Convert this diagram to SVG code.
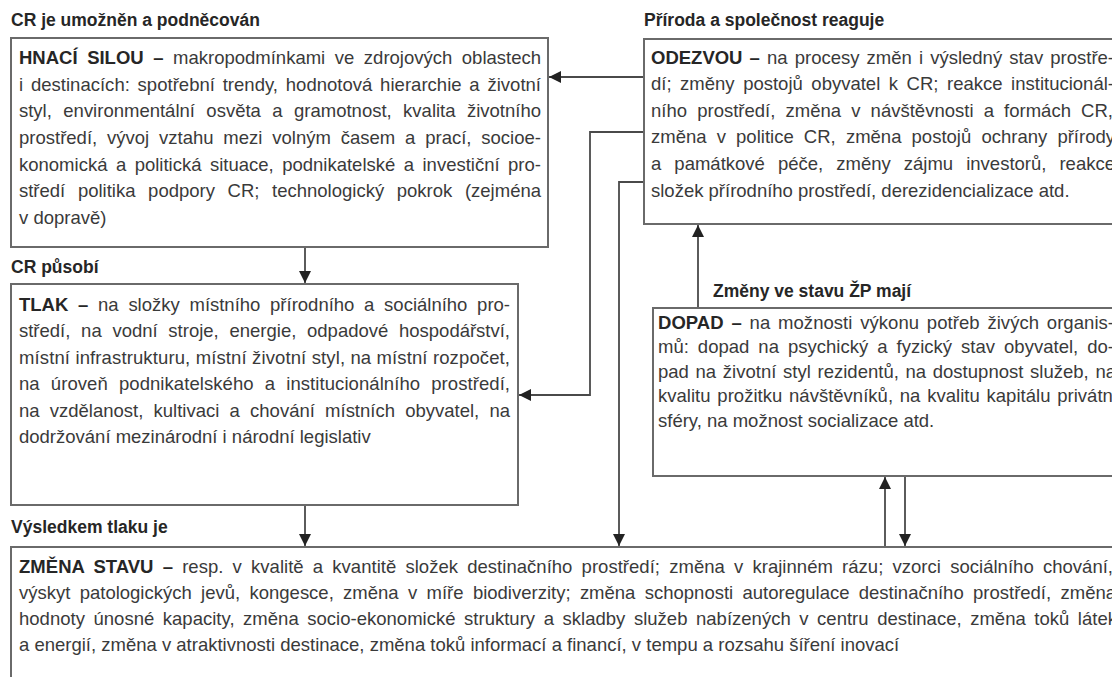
<svg xmlns="http://www.w3.org/2000/svg" width="1112" height="677" viewBox="0 0 1112 677">
<style>
  .bg { fill: #ffffff; }
  .box { fill: #ffffff; stroke: #6a6a6a; stroke-width: 2; }
  .title { font-family: "Liberation Sans", Arial, sans-serif; font-size: 17.5px; font-weight: bold; fill: #262626; }
  .t { font-family: "Liberation Sans", Arial, sans-serif; font-size: 18.5px; fill: #3a3a3a; }
  .b { font-weight: bold; fill: #262626; }
  .conn { fill: none; stroke: #4a4a4a; stroke-width: 1.8; }
</style>
<defs>
  <marker id="ah" markerUnits="userSpaceOnUse" markerWidth="12" markerHeight="12" refX="12" refY="6" orient="auto">
    <path d="M0,0 L12,6 L0,12 z" fill="#222"/>
  </marker>
</defs>
<rect class="bg" x="0" y="0" width="1112" height="677"/>

<g id="connectors">
  <line class="conn" x1="644" y1="77" x2="549" y2="77" marker-end="url(#ah)"/>
  <polyline class="conn" points="644,132 590,132 590,395 519,395" marker-end="url(#ah)"/>
  <polyline class="conn" points="644,182 619,182 619,546" marker-end="url(#ah)"/>
  <line class="conn" x1="305" y1="247" x2="305" y2="283" marker-end="url(#ah)"/>
  <line class="conn" x1="305" y1="505" x2="305" y2="546" marker-end="url(#ah)"/>
  <line class="conn" x1="698" y1="308" x2="698" y2="225" marker-end="url(#ah)"/>
  <line class="conn" x1="885" y1="547" x2="885" y2="477" marker-end="url(#ah)"/>
  <line class="conn" x1="905" y1="476" x2="905" y2="546" marker-end="url(#ah)"/>
</g>

<g id="node-hnaci-sila">
  <text class="title" x="11" y="26">CR je umožněn a podněcován</text>
  <rect class="box" x="11" y="38" width="537" height="209"/>
  <text class="t" x="19" y="64" style="word-spacing:4.4px" textLength="522" lengthAdjust="spacing"><tspan class="b">HNACÍ SILOU –</tspan> makropodmínkami ve zdrojových oblastech</text>
  <text class="t" x="19" y="91" style="word-spacing:2.6px" textLength="522" lengthAdjust="spacing">i destinacích: spotřební trendy, hodnotová hierarchie a životní</text>
  <text class="t" x="19" y="117" style="word-spacing:6.3px" textLength="522" lengthAdjust="spacing">styl, environmentální osvěta a gramotnost, kvalita životního</text>
  <text class="t" x="19" y="144" style="word-spacing:4.7px" textLength="522" lengthAdjust="spacing">prostředí, vývoj vztahu mezi volným časem a prací, socioe-</text>
  <text class="t" x="19" y="171" style="word-spacing:3.3px" textLength="522" lengthAdjust="spacing">konomická a politická situace, podnikatelské a investiční pro-</text>
  <text class="t" x="19" y="197" style="word-spacing:7.5px" textLength="522" lengthAdjust="spacing">středí politika podpory CR; technologický pokrok (zejména</text>
  <text class="t" x="19" y="224">v dopravě)</text>
</g>

<g id="node-tlak">
  <text class="title" x="11" y="273">CR působí</text>
  <rect class="box" x="11" y="284" width="507" height="221"/>
  <text class="t" x="19" y="311" style="word-spacing:4.6px" textLength="491" lengthAdjust="spacing"><tspan class="b">TLAK –</tspan> na složky místního přírodního a sociálního pro-</text>
  <text class="t" x="19" y="337" style="word-spacing:5.6px" textLength="491" lengthAdjust="spacing">středí, na vodní stroje, energie, odpadové hospodářství,</text>
  <text class="t" x="19" y="364" textLength="491" lengthAdjust="spacing">místní infrastrukturu, místní životní styl, na místní rozpočet,</text>
  <text class="t" x="19" y="390" style="word-spacing:5.9px" textLength="491" lengthAdjust="spacing">na úroveň podnikatelského a institucionálního prostředí,</text>
  <text class="t" x="19" y="417" style="word-spacing:5.1px" textLength="491" lengthAdjust="spacing">na vzdělanost, kultivaci a chování místních obyvatel, na</text>
  <text class="t" x="19" y="443">dodržování mezinárodní i národní legislativ</text>
</g>

<g id="node-zmena-stavu">
  <text class="title" x="11" y="533">Výsledkem tlaku je</text>
  <rect class="box" x="11" y="547" width="1120" height="150"/>
  <text class="t" x="19" y="573" style="word-spacing:4px" textLength="1094" lengthAdjust="spacing"><tspan class="b">ZMĚNA STAVU –</tspan> resp. v kvalitě a kvantitě složek destinačního prostředí; změna v krajinném rázu; vzorci sociálního chování,</text>
  <text class="t" x="19" y="599" style="word-spacing:4.2px" textLength="1097" lengthAdjust="spacing">výskyt patologických jevů, kongesce, změna v míře biodiverzity; změna schopnosti autoregulace destinačního prostředí, změna</text>
  <text class="t" x="19" y="625" style="word-spacing:3.4px" textLength="1098" lengthAdjust="spacing">hodnoty únosné kapacity, změna socio-ekonomické struktury a skladby služeb nabízených v centru destinace, změna toků látek</text>
  <text class="t" x="19" y="651">a energií, změna v atraktivnosti destinace, změna toků informací a financí, v tempu a rozsahu šíření inovací</text>
</g>

<g id="node-odezva">
  <text class="title" x="644" y="26">Příroda a společnost reaguje</text>
  <rect class="box" x="644" y="39" width="480" height="185"/>
  <text class="t" x="651" y="64" style="word-spacing:2px" textLength="463" lengthAdjust="spacing"><tspan class="b">ODEZVOU –</tspan> na procesy změn i výsledný stav prostře-</text>
  <text class="t" x="651" y="90" style="word-spacing:3.4px" textLength="463" lengthAdjust="spacing">dí; změny postojů obyvatel k CR; reakce institucionál-</text>
  <text class="t" x="651" y="117" style="word-spacing:5px" textLength="462" lengthAdjust="spacing">ního prostředí, změna v návštěvnosti a formách CR,</text>
  <text class="t" x="651" y="143" style="word-spacing:5px" textLength="464" lengthAdjust="spacing">změna v politice CR, změna postojů ochrany přírody</text>
  <text class="t" x="651" y="170" style="word-spacing:7.9px" textLength="464" lengthAdjust="spacing">a památkové péče, změny zájmu investorů, reakce</text>
  <text class="t" x="651" y="197">složek přírodního prostředí, derezidencializace atd.</text>
</g>

<g id="node-dopad">
  <text class="title" x="713" y="297">Změny ve stavu ŽP mají</text>
  <rect class="box" x="653" y="308" width="470" height="168"/>
  <text class="t" x="658" y="329" style="word-spacing:2.6px" textLength="456" lengthAdjust="spacing"><tspan class="b">DOPAD –</tspan> na možnosti výkonu potřeb živých organis-</text>
  <text class="t" x="658" y="353" style="word-spacing:3.8px" textLength="456" lengthAdjust="spacing">mů: dopad na psychický a fyzický stav obyvatel, do-</text>
  <text class="t" x="658" y="378" style="word-spacing:1.5px" textLength="458" lengthAdjust="spacing">pad na životní styl rezidentů, na dostupnost služeb, na</text>
  <text class="t" x="658" y="402" style="word-spacing:1.6px" textLength="460" lengthAdjust="spacing">kvalitu prožitku návštěvníků, na kvalitu kapitálu privátní</text>
  <text class="t" x="658" y="427">sféry, na možnost socializace atd.</text>
</g>
</svg>
